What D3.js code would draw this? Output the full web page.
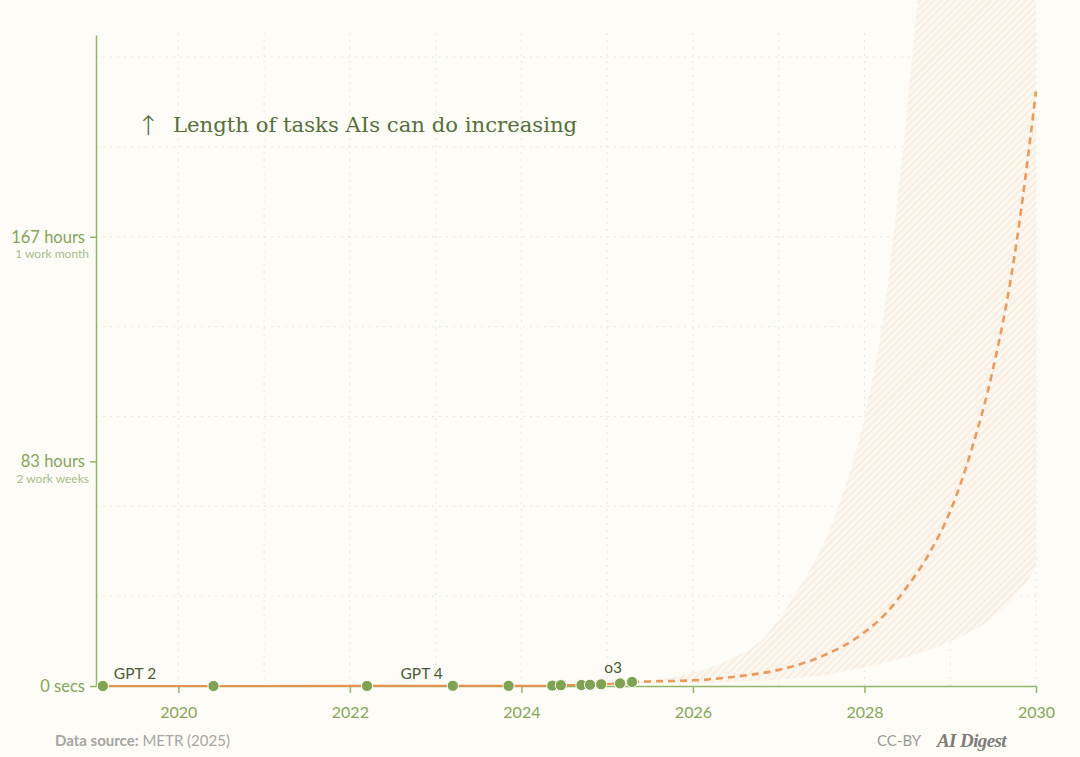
<!DOCTYPE html>
<html><head><meta charset="utf-8">
<script src="https://cdn.jsdelivr.net/npm/d3@7"></script>
<style>
html,body{margin:0;padding:0;background:#fdfcf7;}
svg{display:block;}
</style></head>
<body>
<svg id="c" width="1080" height="757"></svg>
<script>
// ---- data (years as decimal years, time horizon in hours) ----
const modelNames  = ["GPT 2","GPT 3","GPT 3.5","GPT 4","GPT 4 Turbo","GPT 4o","Claude 3.5 Sonnet","o1-preview","Claude 3.5 Sonnet (new)","o1","Claude 3.7 Sonnet","o3"];
const modelDates  = [2019.12, 2020.41, 2022.20, 2023.20, 2023.85, 2024.36, 2024.46, 2024.70, 2024.80, 2024.93, 2025.15, 2025.29];
const modelHours  = [0.0007, 0.0025, 0.01, 0.09, 0.07, 0.15, 0.3, 0.37, 0.47, 0.65, 0.98, 1.5];
const labelled    = ["GPT 2","GPT 4","o3"];

const trendYears  = [2025.29, 2025.5, 2026, 2026.5, 2027, 2027.5, 2028, 2028.25, 2028.5, 2028.75, 2029, 2029.25, 2029.5, 2029.75, 2030];
const trendHours  = [1.5, 1.7, 2.1, 3.5, 6, 11, 20, 27, 37, 49, 65, 88, 118, 160, 221];

const bandYears   = [2025.3, 2025.6, 2026.0, 2026.5, 2026.8, 2027.15, 2027.7, 2028.0, 2028.25, 2028.45, 2028.62, 2028.85, 2029.2, 2029.5, 2029.75, 2030];
const bandLow     = [1.2, 1.1, 1.1, 1.6, 2.0, 2.7, 5.0, 7, 8.8, 10.4, 12, 14.5, 19.5, 25.5, 33, 44];
const bandHigh    = [1.6, 2.5, 5, 11, 17, 32, 67, 100, 144, 200, 255, 330, 480, 700, 1000, 1400];

const yearTicks   = [2020, 2022, 2024, 2026, 2028, 2030];
const yTickVals   = [0, 83.5, 167];
const yTickLabels = ["0 secs", "83 hours", "167 hours"];
const yTickSubs   = ["", "2 work weeks", "1 work month"];

// ---- layout ----
const svg = d3.select("#c");
const W = 1080, H = 757;
const x = d3.scaleLinear().domain([2019.04, 2030]).range([96, 1036]);
const y = d3.scaleLinear().domain([0, 242]).range([686, 35]);
const sans = "Lato, 'Open Sans', sans-serif";

svg.append("rect").attr("width", W).attr("height", H).attr("fill", "#fdfcf7");

// hatch pattern
const defs = svg.append("defs");
const pat = defs.append("pattern").attr("id","hatch").attr("patternUnits","userSpaceOnUse")
  .attr("width",5).attr("height",5).attr("patternTransform","rotate(45)");
pat.append("rect").attr("width",5).attr("height",5).attr("fill","#fcf8f0");
pat.append("line").attr("x1",1).attr("y1",0).attr("x2",1).attr("y2",5)
  .attr("stroke","#f8eadc").attr("stroke-width",1.5);

// grid
const gridColor = "#e0e5ee";
svg.append("g").selectAll("line").data(d3.range(2020, 2031))
  .join("line")
  .attr("x1", d => x(d)).attr("x2", d => x(d))
  .attr("y1", 33).attr("y2", 686)
  .attr("stroke", gridColor).attr("stroke-width", 1).attr("stroke-dasharray", "2,5");
svg.append("g").selectAll("line").data(d3.range(1, 8).map(k => k * 167 / 5))
  .join("line")
  .attr("x1", 96).attr("x2", 1036)
  .attr("y1", d => y(d)).attr("y2", d => y(d))
  .attr("stroke", gridColor).attr("stroke-width", 1).attr("stroke-dasharray", "2,5");

// confidence band
const bandData = bandYears.map((t, i) => ({t, lo: bandLow[i], hi: bandHigh[i]}));
svg.append("path").datum(bandData)
  .attr("d", d3.area().x(d => x(d.t)).y0(d => y(d.lo)).y1(d => y(d.hi)).curve(d3.curveMonotoneX))
  .attr("fill", "url(#hatch)");

// axes
const axisGreen = "#93b56a";
const labelGreen = "#86a55a";
const xAxis = svg.append("g").attr("transform", "translate(0,686)")
  .call(d3.axisBottom(x).tickValues(yearTicks).tickFormat(d3.format("d")).tickSize(7).tickSizeOuter(0));
xAxis.select(".domain").attr("stroke", axisGreen).attr("stroke-width", 1.5);
xAxis.selectAll(".tick line").attr("stroke", axisGreen).attr("stroke-width", 1.5);
xAxis.selectAll(".tick text").attr("fill", labelGreen).attr("font-family", sans)
  .attr("font-size", 16).attr("dy", "1.35em");

const yAxis = svg.append("g").attr("transform", "translate(96,0)")
  .call(d3.axisLeft(y).tickValues(yTickVals).tickFormat((d, i) => yTickLabels[i]).tickSize(6).tickSizeOuter(0).tickPadding(5));
yAxis.select(".domain").attr("stroke", axisGreen).attr("stroke-width", 1.5);
yAxis.selectAll(".tick line").attr("stroke", axisGreen).attr("stroke-width", 1.5);
yAxis.selectAll(".tick text").attr("fill", labelGreen).attr("font-family", sans)
  .attr("font-size", 16.5);
yAxis.selectAll(".tick").append("text")
  .attr("x", -7).attr("y", 21).attr("text-anchor", "end")
  .attr("fill", "#a9bd8c").attr("font-family", sans).attr("font-size", 12)
  .text((d, i) => yTickSubs[i]);

// historical line
const pts = modelDates.map((t, i) => ({t, h: modelHours[i], name: modelNames[i]}));
const lineGen = d3.line().x(d => x(d.t)).y(d => y(d.h));
svg.append("path").datum(pts).attr("d", lineGen)
  .attr("fill", "none").attr("stroke", "#e8924f").attr("stroke-width", 2.2);

// projection
const trend = trendYears.map((t, i) => ({t, h: trendHours[i]}));
svg.append("path").datum(trend)
  .attr("d", d3.line().x(d => x(d.t)).y(d => y(d.h)).curve(d3.curveMonotoneX))
  .attr("fill", "none").attr("stroke", "#eb9a5c").attr("stroke-width", 2.6)
  .attr("stroke-dasharray", "7,5");

// points
svg.append("g").selectAll("circle").data(pts).join("circle")
  .attr("cx", d => x(d.t)).attr("cy", d => y(d.h)).attr("r", 5.6)
  .attr("fill", "#7fa253").attr("stroke", "#fdfcf7").attr("stroke-width", 1);

// point labels
svg.append("g").selectAll("text").data(pts.filter(d => labelled.includes(d.name))).join("text")
  .attr("x", d => d.name === "GPT 2" ? x(d.t) + 11 : x(d.t) - 10)
  .attr("y", d => d.name === "o3" ? y(d.h) - 9 : y(d.h) - 7)
  .attr("text-anchor", d => d.name === "GPT 2" ? "start" : "end")
  .attr("fill", "#4b5a35").attr("font-family", sans).attr("font-size", 15.5)
  .text(d => d.name);

// title
svg.append("text").attr("x", 137).attr("y", 135)
  .attr("font-family", "'DejaVu Sans', sans-serif").attr("font-size", 27).attr("fill", "#56703c")
  .attr("font-weight", 300).text("\u2191");
svg.append("text").attr("x", 173).attr("y", 132)
  .attr("font-family", "'DejaVu Serif', serif").attr("font-size", 21.2).attr("fill", "#56703c")
  .text("Length of tasks AIs can do increasing");

// footer
const foot = svg.append("text").attr("x", 55).attr("y", 746)
  .attr("font-family", sans).attr("font-size", 15).attr("fill", "#a6a6a2");
foot.append("tspan").attr("font-weight", "bold").text("Data source:");
foot.append("tspan").text(" METR (2025)");

svg.append("text").attr("x", 877).attr("y", 746)
  .attr("font-family", sans).attr("font-size", 15).attr("fill", "#9a9a96").text("CC-BY");
svg.append("text").attr("x", 937).attr("y", 747)
  .attr("font-family", "'Liberation Serif', 'DejaVu Serif', serif").attr("font-size", 19)
  .attr("font-weight", "bold").attr("font-style", "italic").attr("letter-spacing", -0.6)
  .attr("fill", "#7d7d79").text("AI Digest");
</script>
</body></html>
